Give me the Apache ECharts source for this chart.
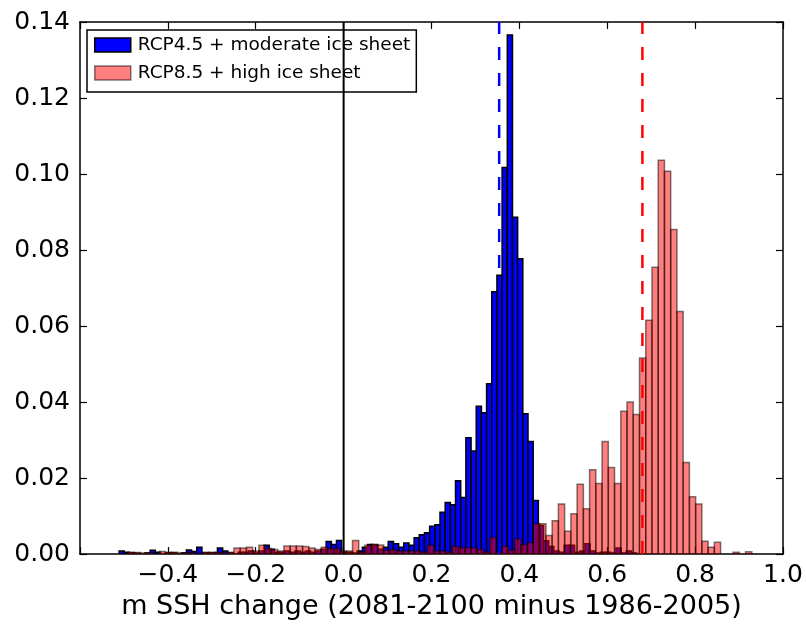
<!DOCTYPE html>
<html>
<head>
<meta charset="utf-8">
<script src="https://cdn.jsdelivr.net/npm/echarts@6/dist/echarts.min.js"></script>
<style>
  html, body { margin: 0; padding: 0; background: #ffffff; }
  #chart { width: 806px; height: 625px; }
</style>
</head>
<body>
<div id="chart"></div>
<script>
// Fraction of ensemble members per bin (100 equal-width bins per scenario)
const blueName = 'RCP4.5 + moderate ice sheet';
const redName = 'RCP8.5 + high ice sheet';

const blueBinStart = -0.511;
const blueBinWidth = 0.01178;
const blueFraction = [
  0.0008, 0.0005, 0.0003, 0.0002, 0.0000, 0.0003, 0.0010, 0.0005, 0.0000, 0.0003,
  0.0003, 0.0000, 0.0003, 0.0011, 0.0007, 0.0018, 0.0003, 0.0003, 0.0003, 0.0016,
  0.0008, 0.0003, 0.0000, 0.0005, 0.0005, 0.0008, 0.0003, 0.0008, 0.0023, 0.0013,
  0.0005, 0.0005, 0.0008, 0.0005, 0.0008, 0.0005, 0.0008, 0.0005, 0.0008, 0.0013,
  0.0033, 0.0025, 0.0036, 0.0005, 0.0005, 0.0003, 0.0008, 0.0018, 0.0025, 0.0024,
  0.0013, 0.0018, 0.0033, 0.0027, 0.0018, 0.0029, 0.0023, 0.0043, 0.0051, 0.0056,
  0.0073, 0.0077, 0.0110, 0.0136, 0.0130, 0.0193, 0.0149, 0.0306, 0.0271, 0.0389,
  0.0372, 0.0448, 0.0690, 0.0734, 0.1017, 0.1366, 0.0886, 0.0777, 0.0369, 0.0296,
  0.0141, 0.0075, 0.0035, 0.0020, 0.0008, 0.0005, 0.0023, 0.0023, 0.0005, 0.0008,
  0.0027, 0.0008, 0.0003, 0.0005, 0.0005, 0.0003, 0.0016, 0.0003, 0.0008, 0.0003
];

const redBinStart = -0.491;
const redBinWidth = 0.0142;
const redFraction = [
  0.0005, 0.0004, 0.0003, 0.0003, 0.0000, 0.0007, 0.0005, 0.0005, 0.0003, 0.0003,
  0.0003, 0.0000, 0.0005, 0.0005, 0.0005, 0.0003, 0.0005, 0.0016, 0.0016, 0.0018,
  0.0008, 0.0023, 0.0015, 0.0012, 0.0008, 0.0021, 0.0021, 0.0021, 0.0020, 0.0016,
  0.0012, 0.0018, 0.0015, 0.0015, 0.0008, 0.0008, 0.0036, 0.0005, 0.0023, 0.0026,
  0.0024, 0.0010, 0.0012, 0.0008, 0.0008, 0.0008, 0.0008, 0.0005, 0.0023, 0.0008,
  0.0008, 0.0005, 0.0020, 0.0017, 0.0017, 0.0017, 0.0012, 0.0005, 0.0044, 0.0005,
  0.0020, 0.0010, 0.0040, 0.0025, 0.0030, 0.0080, 0.0080, 0.0049, 0.0088, 0.0132,
  0.0060, 0.0106, 0.0184, 0.0119, 0.0222, 0.0186, 0.0296, 0.0228, 0.0186, 0.0376,
  0.0400, 0.0367, 0.0516, 0.0615, 0.0755, 0.1036, 0.1007, 0.0854, 0.0638, 0.0241,
  0.0151, 0.0132, 0.0034, 0.0018, 0.0031, 0.0000, 0.0000, 0.0005, 0.0000, 0.0006
];

// Scenario means (dashed markers)
const blueMean = 0.354;
const redMean = 0.680;

// Axis ranges and tick steps
const xMin = -0.6, xMax = 1.0, xStep = 0.2;
const yMin = 0.0, yMax = 0.14, yStep = 0.02;
const xTitle = 'm SSH change (2081-2100 minus 1986-2005)';

const FONT = 'DejaVu Sans';

function toBins(start, width, values) {
  return values.map((v, i) => [start + i * width, start + (i + 1) * width, v]);
}

function barRenderer(fill, stroke) {
  return function (params, api) {
    const x0 = api.value(0), x1 = api.value(1), h = api.value(2);
    if (!(h > 0)) return null;
    const pTop = api.coord([x0, h]);
    const pBot = api.coord([x1, 0]);
    return {
      type: 'rect',
      shape: { x: pTop[0], y: pTop[1], width: pBot[0] - pTop[0], height: pBot[1] - pTop[1] },
      style: { fill: fill, stroke: stroke, lineWidth: 1.5 }
    };
  };
}

function fmtX(v) {
  if (Math.abs(v - xMin) < 1e-9) return '';
  if (Math.abs(v) < 1e-9) return '0.0';
  const s = Math.abs(v).toFixed(1);
  return v < 0 ? '\u2212' + s : s;
}

const blueFill = '#0000ff', blueEdge = '#000000';
const redFill = 'rgba(255,0,0,0.5)', redEdge = 'rgba(0,0,0,0.5)';

const frameLine = { show: true, onZero: false, lineStyle: { color: '#000', width: 1.5 } };
const innerTick = { show: true, inside: true, length: 7, lineStyle: { color: '#000', width: 1.2 } };

const chart = echarts.init(document.getElementById('chart'), null, { renderer: 'canvas' });

chart.setOption({
  animation: false,
  backgroundColor: '#ffffff',
  textStyle: { fontFamily: FONT },
  grid: { left: 80, right: 23, top: 22, bottom: 68, containLabel: false },
  legend: {
    data: [
      { name: blueName, icon: 'rect', itemStyle: { color: blueFill, borderColor: blueEdge, borderWidth: 1.5 } },
      { name: redName, icon: 'rect', itemStyle: { color: redFill, borderColor: redEdge, borderWidth: 1.5 } }
    ],
    orient: 'vertical',
    left: 87,
    top: 30,
    padding: [5, 6, 9, 7],
    itemWidth: 36,
    itemHeight: 14,
    itemGap: 8,
    backgroundColor: '#ffffff',
    borderColor: '#000000',
    borderWidth: 1.5,
    borderRadius: 0,
    selectedMode: false,
    textStyle: { fontFamily: FONT, fontSize: 18.5, color: '#000', lineHeight: 20, padding: [0, 0, 0, 2] }
  },
  xAxis: [
    {
      type: 'value', min: xMin, max: xMax, interval: xStep, position: 'bottom',
      axisLine: frameLine, axisTick: innerTick, splitLine: { show: false },
      axisLabel: { formatter: fmtX, fontFamily: FONT, fontSize: 25, color: '#000', margin: 9, showMinLabel: true, showMaxLabel: true },
      name: xTitle, nameLocation: 'middle', nameGap: 35,
      nameTextStyle: { fontFamily: FONT, fontSize: 27, color: '#000' }
    },
    {
      type: 'value', min: xMin, max: xMax, interval: xStep, position: 'top',
      axisLine: frameLine, axisTick: innerTick, splitLine: { show: false },
      axisLabel: { show: false }
    }
  ],
  yAxis: [
    {
      type: 'value', min: yMin, max: yMax, interval: yStep, position: 'left',
      axisLine: frameLine, axisTick: innerTick, splitLine: { show: false },
      axisLabel: { formatter: v => v.toFixed(2), fontFamily: FONT, fontSize: 25, color: '#000', margin: 10, showMinLabel: true, showMaxLabel: true }
    },
    {
      type: 'value', min: yMin, max: yMax, interval: yStep, position: 'right',
      axisLine: frameLine, axisTick: innerTick, splitLine: { show: false },
      axisLabel: { show: false }
    }
  ],
  series: [
    {
      name: blueName, type: 'custom', xAxisIndex: 0, yAxisIndex: 0, z: 2, clip: true,
      itemStyle: { color: blueFill, borderColor: blueEdge, borderWidth: 1.5 },
      encode: { x: [0, 1], y: 2 },
      renderItem: barRenderer(blueFill, blueEdge),
      data: toBins(blueBinStart, blueBinWidth, blueFraction)
    },
    {
      name: redName, type: 'custom', xAxisIndex: 0, yAxisIndex: 0, z: 3, clip: true,
      itemStyle: { color: redFill, borderColor: redEdge, borderWidth: 1.5 },
      encode: { x: [0, 1], y: 2 },
      renderItem: barRenderer(redFill, redEdge),
      data: toBins(redBinStart, redBinWidth, redFraction)
    },
    {
      name: 'zero', type: 'line', xAxisIndex: 0, yAxisIndex: 0, z: 4, silent: true,
      symbol: 'none', data: [[0, yMin], [0, yMax]],
      lineStyle: { color: '#000', width: 2 }
    },
    {
      name: 'blueMean', type: 'line', xAxisIndex: 0, yAxisIndex: 0, z: 5, silent: true,
      symbol: 'none', data: [[blueMean, yMin], [blueMean, yMax]],
      lineStyle: { color: '#0000ff', width: 2.5, type: [13, 13] }
    },
    {
      name: 'redMean', type: 'line', xAxisIndex: 0, yAxisIndex: 0, z: 5, silent: true,
      symbol: 'none', data: [[redMean, yMin], [redMean, yMax]],
      lineStyle: { color: '#ff0000', width: 2.5, type: [13, 13] }
    }
  ]
});
</script>
</body>
</html>
